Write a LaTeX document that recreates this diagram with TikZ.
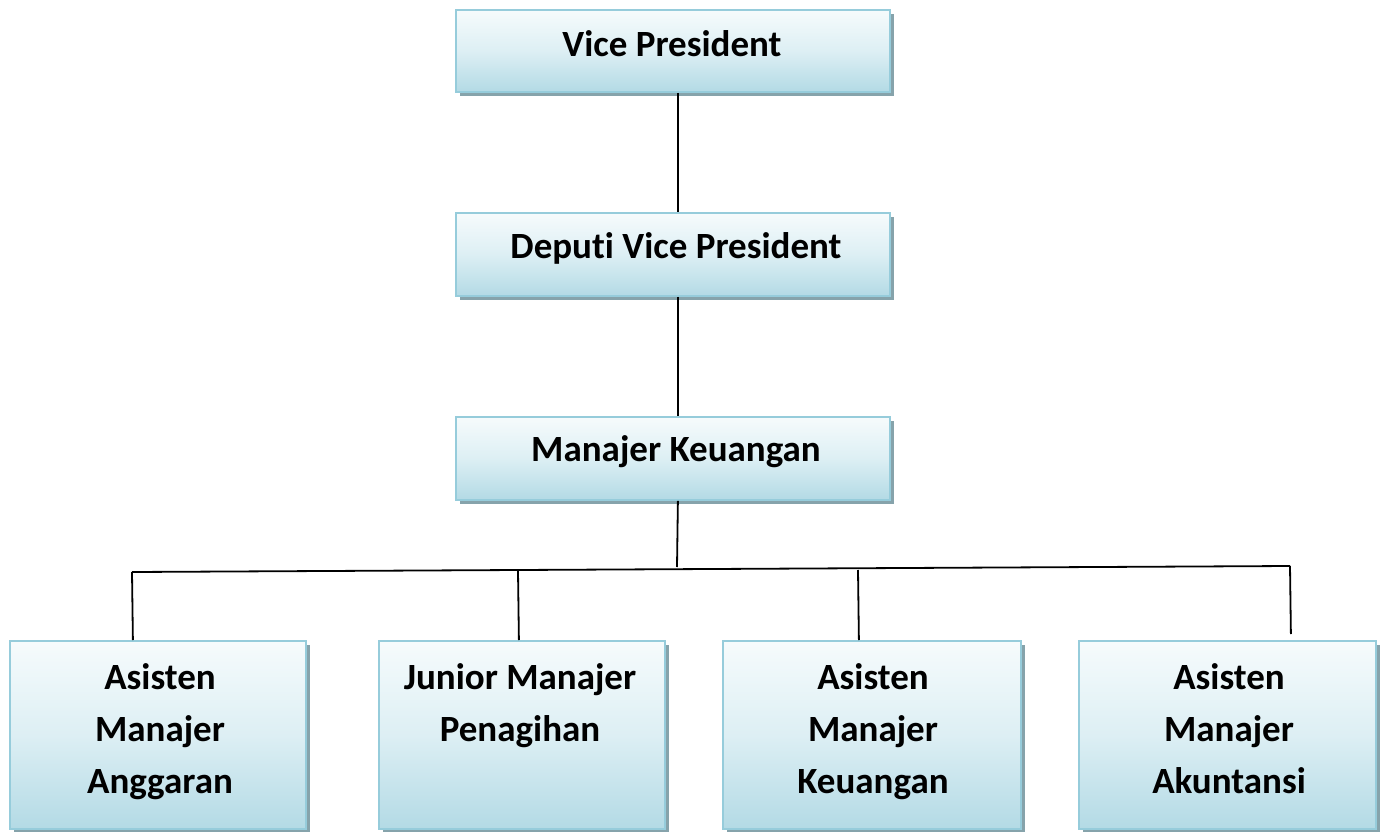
\documentclass[tikz,border=0pt]{standalone}
\usepackage{fontspec}
\setmainfont[Ligatures={NoCommon,NoRequired,NoContextual},RawFeature={-dlig}]{Carlito}
\usetikzlibrary{shadows}
\definecolor{boxtop}{HTML}{F6FBFC}
\definecolor{boxmid}{HTML}{DDEFF4}
\definecolor{boxbot}{HTML}{B3DAE5}
\definecolor{boxline}{HTML}{96CCDB}
\definecolor{shadowc}{HTML}{86A3AB}
\tikzset{
  orgbox/.style={draw=boxline, line width=1.8pt, top color=boxtop, bottom color=boxbot, middle color=boxmid,
    drop shadow={shadow xshift=4pt, shadow yshift=-4pt, fill=shadowc, opacity=1},
    inner sep=0pt, anchor=north west},
  boxtext/.style={font=\bfseries\fontsize{37}{52}\selectfont, align=center, inner sep=0pt},
  conn/.style={draw=black, line width=1.8pt}
}
\begin{document}
\begin{tikzpicture}[x=1pt,y=-1pt]
\useasboundingbox (0,0) rectangle (1384,832);
% top boxes
\node[orgbox, minimum width=434pt, minimum height=82pt] (vp) at (455,9) {};
\node[orgbox, minimum width=434pt, minimum height=83pt] (dvp) at (455,212) {};
\node[orgbox, minimum width=434pt, minimum height=83pt] (mk) at (455,416) {};
\node[boxtext] (tvp) at (672,44) {Vice President};
\node[boxtext] (tdvp) at (676,248) {Deput\kern0pt i Vice President};
\node[boxtext] (tmk) at (676,452) {Manajer Keuangan};
% bottom boxes
\node[orgbox, minimum width=296pt, minimum height=188pt] (a1) at (9,640) {};
\node[orgbox, minimum width=286pt, minimum height=188pt] (a2) at (378,640) {};
\node[orgbox, minimum width=298pt, minimum height=188pt] (a3) at (722,640) {};
\node[orgbox, minimum width=297pt, minimum height=188pt] (a4) at (1078,640) {};
\node[boxtext, anchor=north] (t1) at (160,663) {Asisten\\Manajer\\Anggaran};
\node[boxtext, anchor=north] (t2) at (520,663) {Junior Manajer\\Penagihan};
\node[boxtext, anchor=north] (t3) at (873,663) {Asisten\\Manajer\\Keuangan};
\node[boxtext, anchor=north] (t4) at (1229,663) {Asisten\\Manajer\\Akuntansi};
% connectors
\coordinate (bl) at (132,572);
\coordinate (bm) at (677,567);
\coordinate (br) at (1290,566);
\draw[conn] ([xshift=5pt]vp.south) -- ([xshift=5pt]dvp.north);
\draw[conn] ([xshift=5pt]dvp.south) -- ([xshift=5pt]mk.north);
\draw[conn] ([xshift=5pt]mk.south) -- (bm);
\draw[conn] (bl) -- (br);
\draw[conn] (bl) -- ([xshift=-25pt]a1.north);
\draw[conn] (518,571) -- ([xshift=-3pt]a2.north);
\draw[conn] (858,570) -- ([xshift=-13pt]a3.north);
\draw[conn] (br) -- ([xshift=63.5pt,yshift=6pt]a4.north);
\end{tikzpicture}
\end{document}
